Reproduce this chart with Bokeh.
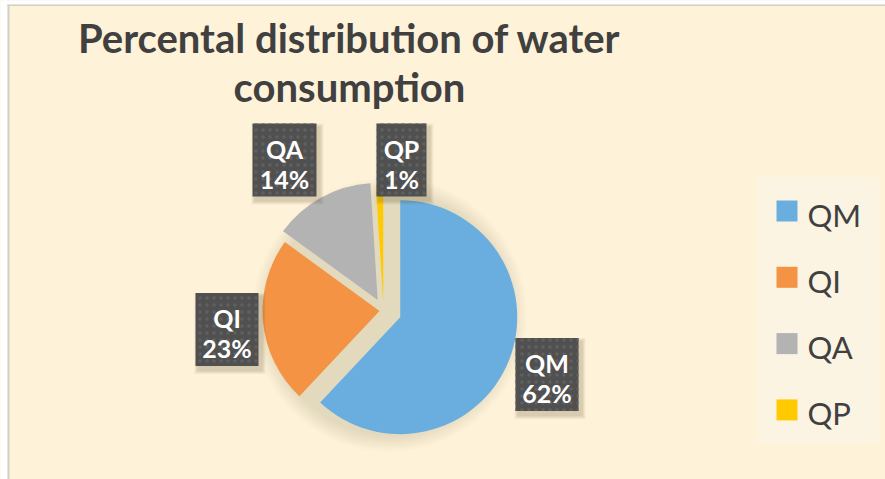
import math
from bokeh.plotting import figure
from bokeh.models import Range1d, ColumnDataSource, BoxAnnotation
from bokeh.core.properties import value
from bokeh.embed import file_html
from bokeh.resources import INLINE

# ---- data ----
categories = ["QM", "QI", "QA", "QP"]
shares = [62, 23, 14, 1]
colors = ["#6AADDF", "#F39343", "#B3B3B3", "#FFCB00"]
title_lines = ["Percental distribution of water", "consumption"]

# ---- layout (figure pixel coordinates, origin bottom-left) ----
W, H = 885, 479
cx, cy, R = 383, 169, 117
explode = [18, 4, 12, 7]
label_centers = [(546.5, 105), (226.5, 150), (284, 319.5), (401, 319.5)]
label_widths = [63, 63, 64, 50]
LABEL_H = 73
BG = "#FEF2D8"
FONT = value("Lato")

p = figure(width=W, height=H, output_backend="svg", toolbar_location=None,
           x_range=Range1d(0, W), y_range=Range1d(0, H), min_border=0,
           background_fill_color=BG, border_fill_color=BG)
p.axis.visible = False
p.grid.visible = False
p.outline_line_color = None

# page edge / chart border
p.add_layout(BoxAnnotation(right=7, fill_color="white", fill_alpha=1, line_color=None))
p.add_layout(BoxAnnotation(left=7, right=9, fill_color="#D0D0D0", fill_alpha=1, line_color=None))
p.add_layout(BoxAnnotation(bottom=475, fill_color="white", fill_alpha=1, line_color=None))
p.add_layout(BoxAnnotation(bottom=473.5, top=475, left=7, fill_color="#D0D0D0", fill_alpha=1, line_color=None))

# wedge geometry
total = float(sum(shares))
starts, ends, xs, ys = [], [], [], []
cum = 0.0
for v, d in zip(shares, explode):
    a0 = math.pi / 2 - 2 * math.pi * cum / total
    cum += v
    a1 = math.pi / 2 - 2 * math.pi * cum / total
    mid = (a0 + a1) / 2
    starts.append(a0)
    ends.append(a1)
    xs.append(cx + d * math.cos(mid))
    ys.append(cy + d * math.sin(mid))

src = ColumnDataSource(dict(x=xs, y=ys, start=starts, end=ends, color=colors,
                            cat=categories,
                            pct=[f"{round(v / total * 100)}%" for v in shares]))

# soft shadow under the pie
for k in range(9):
    p.circle(x=[cx + 6], y=[cy - 4], radius=R + 20 - k * 2,
             fill_color="#9E9A80", fill_alpha=0.032, line_color=None)

p.wedge(x="x", y="y", radius=R, start_angle="start", end_angle="end",
        direction="clock", fill_color="color", line_color=None, source=src)

# data labels
lx = [c[0] for c in label_centers]
ly = [c[1] for c in label_centers]
lsrc = ColumnDataSource(dict(x=lx, y=ly, w=label_widths, cat=categories,
                             pct=src.data["pct"],
                             y1=[y + 11.2 for y in ly], y2=[y - 18.8 for y in ly]))
for k in range(1, 5):
    p.rect(x=[x + 3 for x in lx], y=[y - 4 for y in ly], width=[w + k * 2 for w in label_widths],
           height=LABEL_H + k * 2, fill_color="#5A4A20", fill_alpha=0.06, line_color=None)
p.rect(x="x", y="y", width="w", height=LABEL_H, source=lsrc, fill_color="#505050",
       line_color=None, hatch_pattern="dot", hatch_color="#606060", hatch_scale=7,
       hatch_weight=1.5)
p.text(x="x", y="y1", text="cat", source=lsrc, text_align="center",
       text_baseline="middle", text_color="white", text_font=FONT,
       text_font_style="bold", text_font_size="25px")
p.text(x="x", y="y2", text="pct", source=lsrc, text_align="center",
       text_baseline="middle", text_color="white", text_font=FONT,
       text_font_style="bold", text_font_size="25px")

# title
p.text(x=[349, 349], y=[441.5, 392.5], text=title_lines, text_align="center",
       text_baseline="middle", text_color="#404040", text_font=FONT,
       text_font_style="bold", text_font_size="40px")

# legend
p.rect(x=[817.5], y=[169], width=121, height=266, fill_color="#FBF4E3", line_color=None)
row_y = [268.5 - 66.3 * i for i in range(len(categories))]
p.rect(x=[786.5] * len(categories), y=row_y, width=21, height=21,
       fill_color=colors, line_color=None)
p.text(x=[807] * len(categories), y=[y - 3.5 for y in row_y], text=categories,
       text_align="left", text_baseline="middle", text_color="#404040",
       text_font=FONT, text_font_size="31px")

open("out.html", "w").write(file_html(p, INLINE))
